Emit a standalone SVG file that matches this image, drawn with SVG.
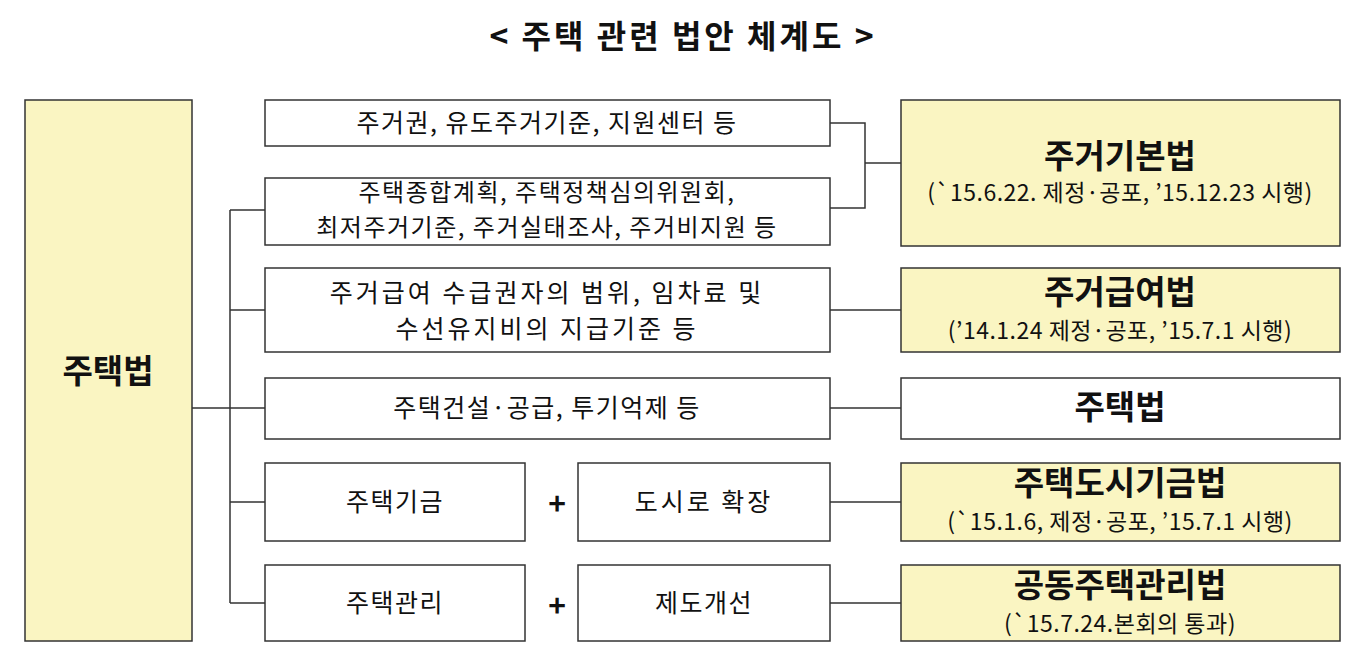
<svg xmlns="http://www.w3.org/2000/svg" width="1365" height="664" viewBox="0 0 1365 664">
<style>
text{font-family:"Noto Sans CJK KR","Noto Sans",sans-serif;fill:#111;text-anchor:middle}
.b{fill:#fff;stroke:#333;stroke-width:1.5}
.y{fill:#FAF5C2;stroke:#333;stroke-width:1.5}
.m{font-size:25px;letter-spacing:1.5px}
.h{font-size:33px;font-weight:bold}
.s{font-size:23px;letter-spacing:0.5px}
#connectors path{fill:none;stroke:#333;stroke-width:1.5}
</style>
<rect width="1365" height="664" fill="#fff"/>
<text x="683" y="48" style="font-size:32px;font-weight:bold;letter-spacing:3px">&lt; 주택 관련 법안 체계도 &gt;</text>
<g id="connectors">
<path d="M192,408H265M230,210V603M230,210H265M230,310H265M230,502H265M230,603H265"/>
<path d="M830,123H865V208H830M865,163H901"/>
<path d="M830,310H901M830,408H901M830,502H901M830,603H901"/>
</g>
<g id="left"><rect class="y" x="25" y="100" width="167" height="541"/><text x="108" y="383" class="h">주택법</text></g>
<g id="m1"><rect class="b" x="265" y="100" width="565" height="46"/><text x="547" y="132" class="m">주거권, 유도주거기준, 지원센터 등</text></g>
<g id="m2"><rect class="b" x="265" y="178" width="565" height="67"/><text x="547" y="201" class="m" style="font-size:24px">주택종합계획, 주택정책심의위원회,</text><text x="547" y="236" class="m" style="font-size:24px">최저주거기준, 주거실태조사, 주거비지원 등</text></g>
<g id="m3"><rect class="b" x="265" y="268" width="565" height="84"/><text x="547" y="302" class="m" style="letter-spacing:3px">주거급여 수급권자의 범위, 임차료 및</text><text x="547" y="338" class="m" style="letter-spacing:3px">수선유지비의 지급기준 등</text></g>
<g id="m4"><rect class="b" x="265" y="378" width="565" height="61"/><text x="547" y="417" class="m">주택건설·공급, 투기억제 등</text></g>
<g id="m5a"><rect class="b" x="265" y="463" width="260" height="78"/><text x="395" y="511" class="m">주택기금</text></g>
<text x="557" y="515" style="font-size:30px;font-weight:bold">+</text>
<g id="m5b"><rect class="b" x="578" y="463" width="252" height="78"/><text x="704" y="511" class="m" style="letter-spacing:3px">도시로 확장</text></g>
<g id="m6a"><rect class="b" x="265" y="565" width="260" height="76"/><text x="395" y="612" class="m">주택관리</text></g>
<text x="557" y="617" style="font-size:30px;font-weight:bold">+</text>
<g id="m6b"><rect class="b" x="578" y="565" width="252" height="76"/><text x="704" y="612" class="m">제도개선</text></g>
<g id="r1"><rect class="y" x="901" y="100" width="439" height="146"/><text x="1120" y="168" class="h">주거기본법</text><text x="1120" y="201" class="s">(`15.6.22.  제정·공포,  ’15.12.23 시행)</text></g>
<g id="r2"><rect class="y" x="901" y="268" width="439" height="84"/><text x="1120" y="304" class="h">주거급여법</text><text x="1120" y="339" class="s">(’14.1.24  제정·공포,  ’15.7.1  시행)</text></g>
<g id="r3"><rect class="b" x="901" y="378" width="439" height="61"/><text x="1120" y="419" class="h">주택법</text></g>
<g id="r4"><rect class="y" x="901" y="463" width="439" height="78"/><text x="1120" y="495" class="h">주택도시기금법</text><text x="1120" y="530" class="s">(`15.1.6,  제정·공포,  ’15.7.1  시행)</text></g>
<g id="r5"><rect class="y" x="901" y="565" width="439" height="76"/><text x="1120" y="597" class="h">공동주택관리법</text><text x="1120" y="632" class="s">(`15.7.24.본회의 통과)</text></g>
</svg>
